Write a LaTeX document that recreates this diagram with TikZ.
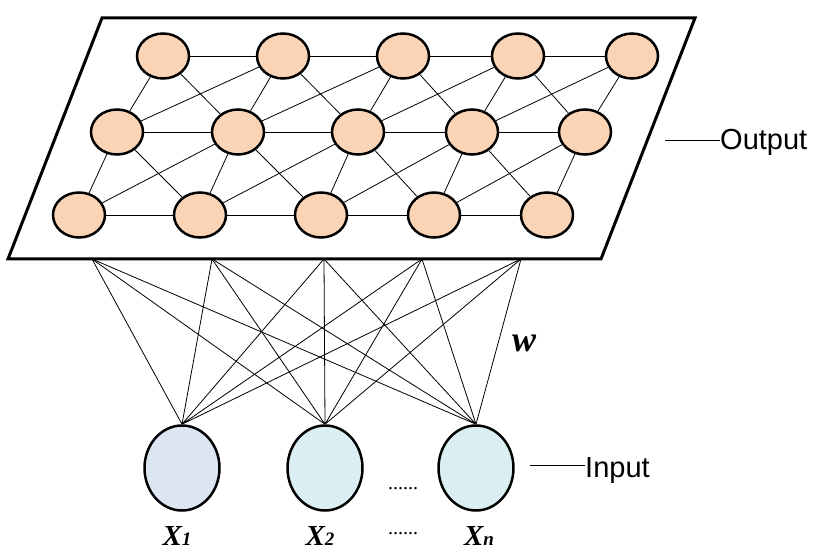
\documentclass[tikz,border=0pt]{standalone}
\usepackage{fontspec}
\setmainfont{Liberation Serif}
\setsansfont{Liberation Sans}
\usepackage{xcolor}
\usepackage{tikz}
\usetikzlibrary{shapes,positioning}
\definecolor{peachFill}{HTML}{FAD4B4}
\definecolor{inputBlue}{HTML}{DCE6F2}
\definecolor{inputCyan}{HTML}{DAEEF3}
\tikzset{som-node/.style={draw,ellipse,fill=peachFill,line width=2.5pt,minimum width=52pt,minimum height=45pt,inner sep=0}}
\tikzset{input-node/.style={draw,ellipse,line width=2.5pt,minimum width=75pt,minimum height=85pt,inner sep=0}}
\tikzset{som-link/.style={line width=0.8pt}}
\tikzset{x-label/.style={font=\fontsize{29}{32}\selectfont\bfseries\itshape,anchor=base,inner sep=0}}
\tikzset{side-label/.style={font=\sffamily\fontsize{29}{34}\selectfont,anchor=base west,inner sep=0}}
\newcommand{\subidx}[1]{{\fontsize{19}{19}\selectfont #1}}

\begin{document}
\begin{tikzpicture}[x=1pt, y=-1pt]
            \useasboundingbox (0,0) rectangle (822,553);
            % output plane
            \draw[line width=3pt] (102,18) -- (695,18) -- (601,259) -- (8,259) -- cycle;

            \node [som-node] (top-1) at (163,56) {};
            \node [som-node] (top-2) at (283,56) {};
            \node [som-node] (top-3) at (403,56) {};
            \node [som-node] (top-4) at (518,56) {};
            \node [som-node] (top-5) at (632,56) {};
            \node [som-node] (mid-1) at (117,132) {};
            \node [som-node] (mid-2) at (238,132) {};
            \node [som-node] (mid-3) at (358,132) {};
            \node [som-node] (mid-4) at (472,132) {};
            \node [som-node] (mid-5) at (585,132) {};
            \node [som-node] (bot-1) at (79,215) {};
            \node [som-node] (bot-2) at (200,215) {};
            \node [som-node] (bot-3) at (321,215) {};
            \node [som-node] (bot-4) at (434,215) {};
            \node [som-node] (bot-5) at (547,215) {};

            \draw[som-link] (top-1) -- (top-2) -- (top-3) -- (top-4) -- (top-5);
            \draw[som-link] (mid-1) -- (mid-2) -- (mid-3) -- (mid-4) -- (mid-5);
            \draw[som-link] (bot-1) -- (bot-2) -- (bot-3) -- (bot-4) -- (bot-5);
            \draw[som-link] (mid-1) -- (top-1) -- (mid-2) -- (top-2) -- (mid-3)
                -- (top-3) -- (mid-4) -- (top-4) -- (mid-5) -- (top-5);
            \draw[som-link] (bot-1) -- (mid-1) -- (bot-2) -- (mid-2) -- (bot-3)
                -- (mid-3) -- (bot-4) -- (mid-4) -- (bot-5) -- (mid-5);
            \draw[som-link] (top-2) -- (mid-1) (top-3) -- (mid-2)
                (top-4) -- (mid-3) (top-5) -- (mid-4);
            \draw[som-link] (mid-2) -- (bot-1) (mid-3) -- (bot-2)
                (mid-4) -- (bot-3) (mid-5) -- (bot-4);

            % input layer
            \node [input-node, fill=inputBlue] (in-1) at (182,468) {};
            \node [input-node, fill=inputCyan] (in-2) at (325,468) {};
            \node [input-node, fill=inputCyan] (in-n) at (476,468) {};

            \coordinate (link-1) at (92,259);
            \coordinate (link-2) at (212,259);
            \coordinate (link-3) at (324,259);
            \coordinate (link-4) at (422,259);
            \coordinate (link-5) at (521,259);
            \draw[som-link] (in-1.north) -- (link-1) (in-1.north) -- (link-2) (in-1.north) -- (link-3)
                (in-1.north) -- (link-4) (in-1.north) -- (link-5);
            \draw[som-link] (in-2.north) -- (link-1) (in-2.north) -- (link-2) (in-2.north) -- (link-3)
                (in-2.north) -- (link-4) (in-2.north) -- (link-5);
            \draw[som-link] (in-n.north) -- (link-1) (in-n.north) -- (link-2) (in-n.north) -- (link-3)
                (in-n.north) -- (link-4) (in-n.north) -- (link-5);

            \node[font=\fontsize{36}{40}\selectfont\bfseries\itshape, anchor=base, inner sep=0] (weight) at (524,352) {w};

            \node[x-label] (x-1) at (177,545) {X\subidx{1}};
            \node[x-label] (x-2) at (320,545) {X\subidx{2}};
            \node[x-label] (x-n) at (479,545) {X\subidx{n}};
            \node[font=\fontsize{20}{22}\selectfont, anchor=base, inner sep=0] (dots-mid) at (403,489) {......};
            \node[font=\fontsize{20}{22}\selectfont, anchor=base, inner sep=0] (dots-low) at (403,534) {......};

            % side labels
            \node[side-label] (output) at (720,150) {Output};
            \coordinate (output-tick) at (665,140);
            \draw[som-link] (output-tick) -- (output-tick -| output.west);
            \node[side-label] (input) at (585,477) {Input};
            \coordinate (input-tick) at (530,465);
            \draw[som-link] (input-tick) -- (input-tick -| input.west);
        \end{tikzpicture}
\end{document}
